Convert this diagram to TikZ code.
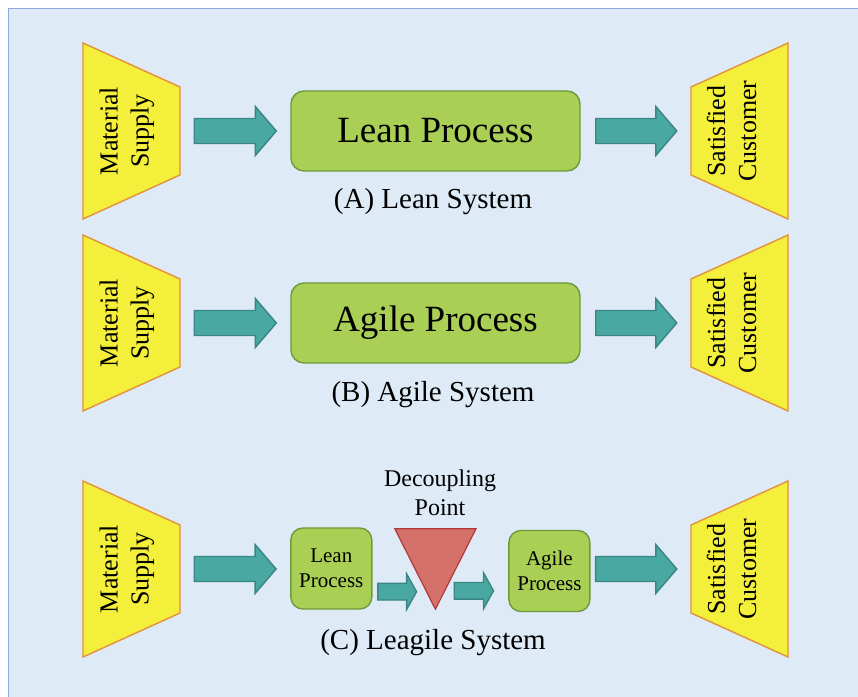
\documentclass[tikz,border=0pt]{standalone}
\usepackage{fontspec}
\setmainfont{Liberation Serif}
\usetikzlibrary{calc}

\definecolor{panelfill}{HTML}{DEEAF6}
\definecolor{panelline}{HTML}{8EA9DB}
\definecolor{funnelfill}{HTML}{F3EF3B}
\definecolor{funnelline}{HTML}{E3913A}
\definecolor{procfill}{HTML}{A9D055}
\definecolor{procline}{HTML}{6C9A3C}
\definecolor{arrowfill}{HTML}{49A8A1}
\definecolor{arrowline}{HTML}{3A8585}
\definecolor{dpfill}{HTML}{D4716A}
\definecolor{dpline}{HTML}{B23A36}

\tikzset{
  funnel/.style={rotate=90, inner sep=0pt, minimum width=176pt, minimum height=97pt},
  funneltext/.style={rotate=90, inner sep=0pt, align=center, font=\fontsize{26}{31}\selectfont},
  funnelshape/.style={fill=funnelfill, draw=funnelline, line width=1.4pt, line join=miter},
  bigproc/.style={draw=procline, fill=procfill, line width=1.4pt, rounded corners=13pt,
    minimum width=289pt, minimum height=80pt, inner sep=0pt, font=\fontsize{37}{44}\selectfont},
  smallproc/.style={draw=procline, fill=procfill, line width=1.4pt, rounded corners=12pt,
    minimum width=81pt, minimum height=81pt, inner sep=0pt, align=center,
    font=\fontsize{21}{25}\selectfont},
  caption/.style={font=\fontsize{29}{34}\selectfont, anchor=base, inner sep=0pt},
  blockstyle/.style={fill=arrowfill, draw=arrowline, line width=1.4pt, line join=miter},
}

% block arrow: start point, point whose x is the tip, shaft half-width, head half-width, head length
\newcommand{\blockarrow}[5]{%
  \draw[blockstyle] let \p1=(#1), \p2=(#2) in
    (\x1,\y1+#3pt) -- (\x2-#5pt,\y1+#3pt) -- (\x2-#5pt,\y1+#4pt) -- (\x2,\y1)
    -- (\x2-#5pt,\y1-#4pt) -- (\x2-#5pt,\y1-#3pt) -- (\x1,\y1-#3pt) -- cycle;}

% supply funnel: long side on the left
\newcommand{\supplyfunnel}[2]{%
  \draw[funnelshape] ($(#1)+(-48.5,88)$) -- ($(#1)+(48.5,44)$) -- ($(#1)+(48.5,-44)$)
    -- ($(#1)+(-48.5,-88)$) -- cycle;
  \node[funnel] (#2) at (#1) {};
  \node[funneltext] (#2-text) at ($(#1)+(-4.5,0)$) {Material\\Supply};}

% customer funnel: long side on the right
\newcommand{\customerfunnel}[2]{%
  \draw[funnelshape] ($(#1)+(48.5,88)$) -- ($(#1)+(-48.5,44)$) -- ($(#1)+(-48.5,-44)$)
    -- ($(#1)+(48.5,-88)$) -- cycle;
  \node[funnel] (#2) at (#1) {};
  \node[funneltext] (#2-text) at ($(#1)+(-8,0)$) {Satisfied\\Customer};}

\begin{document}
\begin{tikzpicture}[x=1pt, y=1pt]
  \useasboundingbox (0,0) rectangle (858,696);
  \clip (0,0) rectangle (858,696);
  \fill[white] (0,0) rectangle (858,696);
  \draw[panelline, fill=panelfill, line width=1.5pt] (8.5,-10) rectangle (870,687.5);

  % (A) lean system
  \coordinate (ca) at (131.5,565);
  \coordinate (cb) at (739.5,565);
  \supplyfunnel{ca}{msA}
  \customerfunnel{cb}{scA}
  \node[bigproc] (lean) at (435.5,565) {Lean Process};
  \node[caption] (capA) at (433,487.7) {(A) Lean System};
  \blockarrow{$(msA.south)+(14,0)$}{$(lean.west)+(-14,0)$}{12.5}{24.5}{21}
  \blockarrow{$(lean.east)+(15,0)$}{$(scA.north)+(-14,0)$}{12.5}{24.5}{21}

  % (B) agile system
  \coordinate (cc) at (131.5,373);
  \coordinate (cd) at (739.5,373);
  \supplyfunnel{cc}{msB}
  \customerfunnel{cd}{scB}
  \node[bigproc] (agile) at (435.5,373) {Agile Process};
  \node[caption] (capB) at (433,294.3) {(B) Agile System};
  \blockarrow{$(msB.south)+(14,0)$}{$(agile.west)+(-14,0)$}{12.5}{24.5}{21}
  \blockarrow{$(agile.east)+(15,0)$}{$(scB.north)+(-14,0)$}{12.5}{24.5}{21}

  % (C) leagile system
  \coordinate (ce) at (131.5,127);
  \coordinate (cf) at (739.5,127);
  \supplyfunnel{ce}{msC}
  \customerfunnel{cf}{scC}
  \node[smallproc] (leanC) at (331.3,127.5) {Lean\\Process};
  \node[smallproc] (agileC) at (549.4,125) {Agile\\Process};
  \node[inner sep=0pt, minimum width=80.7pt, minimum height=80pt] (dp) at (435.4,127) {};
  \draw[fill=dpfill, draw=dpline, line width=1.2pt, line join=miter]
    (dp.north west) -- (dp.north east) -- (dp.south) -- cycle;
  \node[font=\fontsize{24}{28}\selectfont, align=center, anchor=base, inner sep=0pt]
    (dplabel) at (440,181) {Decoupling\\Point};
  \node[caption] (capC) at (433,47) {(C) Leagile System};
  \blockarrow{$(msC.south)+(14,0)$}{$(leanC.west)+(-14,0)$}{12.5}{24.5}{21}
  \blockarrow{$(leanC.south east)+(5.3,18)$}{$(dp.north west)+(21.7,0)$}{8.3}{18}{10}
  \blockarrow{$(dp.north east)+(-21.7,-62)$}{$(agileC.west)+(-14.7,0)$}{8.3}{18}{10}
  \blockarrow{$(agileC.east)+(5,2)$}{$(scC.north)+(-14,0)$}{12.5}{24.5}{21}
\end{tikzpicture}
\end{document}
